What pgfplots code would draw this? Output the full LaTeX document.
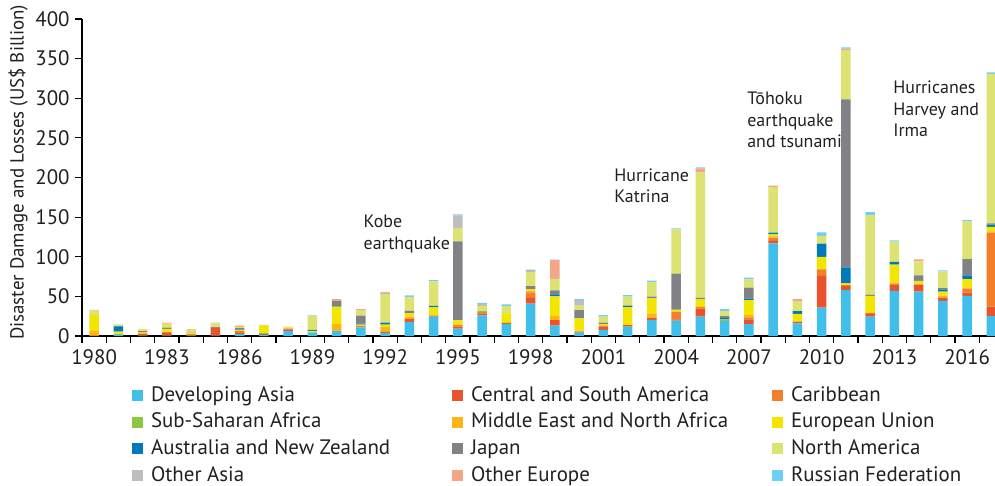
\documentclass[border=0pt]{standalone}
\usepackage{fontspec}
\setmainfont{PT Sans}
\usepackage{pgfplots}
\usepackage{pgfplotstable}
\pgfplotsset{compat=1.18}

\definecolor{cDA}{HTML}{3FBFE9}
\definecolor{cCSA}{HTML}{E9532E}
\definecolor{cCAR}{HTML}{F47F2B}
\definecolor{cSSA}{HTML}{8DC63F}
\definecolor{cMENA}{HTML}{FDB515}
\definecolor{cEU}{HTML}{F2E600}
\definecolor{cANZ}{HTML}{0079B8}
\definecolor{cJPN}{HTML}{808285}
\definecolor{cNA}{HTML}{DDE372}
\definecolor{cOA}{HTML}{BCBEC0}
\definecolor{cOE}{HTML}{F4A688}
\definecolor{cRUS}{HTML}{6DCFF6}
\definecolor{txt}{HTML}{231F20}

% damage and losses by region, US$ billion
\pgfplotstableread{
year DA   CSA  CAR  SSA MENA EU   ANZ  JPN   NA    OA  OE   RUS
1980 0    0    1    0   5    20.5 0    0     5.5   0   1    0
1981 1.5  0    0    1   0.5  2.5  6.5  0.5   1.5   0   0    0.3
1982 0.5  2    0.5  0   1    1    0    1     2.5   0   0.5  0
1983 0.5  3    1.5  0   0.5  3.5  0    1.5   5     0   1.5  0
1984 0    1    0.3  1   0    1    0    0.5   4     0   0.5  0
1985 0.5  10   0    0   0    0    0.8  0     4.5   0   1    0
1986 2.5  1.5  2    0   0.5  1.2  0.3  2     1.5   0   1.5  0
1987 1.5  1    0    1   0    9    0    0     1.3   0   0.3  0
1988 6.3  2    1    0   0    1.3  0    0     1.3   0   0    0
1989 4    0    0    0.5 0    2    1.2  0     18    0   0    0.5
1990 6    0    0    0   9    22   1    6     0     0   2.5  0
1991 11   1    0.5  0   0    2    1.2  10    7     0   1.2  0
1992 4    1.3  0    0   6    3    2.5  0     36    0   2    0.8
1993 17.7 3.8  0    0   3    4.2  0    3     17.7  0   0    2
1994 24.4 1.3  0    0   0    10.5 1.7  0     31    0   0    1.7
1995 9.3  2.5  2    0   0    6    0    99.7  16.8  16  0    1.3
1996 26   2.5  1.7  1.2 0    0    0    0     6.7   2.5 0    1.2
1997 15   1.7  0    0   0    11.8 0    0     9.3   0   0    2
1998 41   7    7    0   1.7  2    0    4.2   18    0   1.2  1.7
1999 13   7    0    0   5    25   2.5  5     14.7  0   23.5 0.8
2000 4.2  1.3  0    0   1.2  15.6 0    10.5  5.5   7   0    1.3
2001 7.6  4.2  1.3  0   0    2    0    1.7   7.6   0   0    2
2002 11.8 2    0    0   0    22.7 1.7  0     11.4  0   0    2
2003 20.2 2.5  0    0   5.9  19   0    2     18.5  0   0    1.7
2004 19.3 1.7  9.7  0   0    2.5  0.8  44.6  56    0   0    1.3
2005 24.4 10   2.5  0   0    9.3  0    2     158.6 0   4.6  1.3
2006 18.9 0    0    2   0    0    1.7  2.5   6.7   0   0    2
2007 15.1 5.9  2.5  0   2.9  18.9 2    13.9  10.1  0   0    2.5
2008 117  2.9  4.2  0   1.7  2.5  2    0     57.6  0   2    0
2009 16   2.1  0    0   0    9.7  3.7  0     12.6  0   2.5  0
2010 35.8 40   8.4  0   0    15.6 16.8 0     9.7   0   0    4.6
2011 58   5    1.3  0   0    2.1  20.2 212   62.2  0   1.7  1.7
2012 24.4 3.4  1.3  0   0    21.5 0    1.7   100.5 0   0    3.4
2013 56.8 8.4  0    0   2.1  22.7 3.4  0     25.7  0   0    1.7
2014 56   8.4  0    0   1.7  3.4  0.8  6.3   17.7  0   2.5  0
2015 44.2 4.2  0    0   2.5  5    2.9  1.7   21    0   0    1.3
2016 50.5 4.2  5    0   1.3  10.9 4.6  20.6  47.5  0   0    1.7
2017 25.2 11.8 93.4 0   1.7  5.5  2.9  1.7   188.4 0   0    2.1
}\losses

\begin{document}
\begin{tikzpicture}[font=\fontsize{10.5}{11}\selectfont, text=txt,
  annot/.style={anchor=north west, align=left, inner sep=0pt,
    font=\fontsize{9}{10.8}\selectfont}]
\begin{axis}[
    scale only axis,
    width=456.5bp, height=158.5bp,
    ybar stacked, bar width=0.39,
    xmin=1979.5, xmax=2017.15,
    ymin=0, ymax=400,
    axis x line=bottom, axis y line=left,
    axis line style={-, line width=0.7bp, black},
    tick align=outside, major tick length=3.5bp,
    tick style={black, line width=0.6bp},
    ytick={0,50,...,400},
    xtick={1979.5,1980.5,...,2016.5},
    xticklabels={1980,,,1983,,,1986,,,1989,,,1992,,,1995,,,1998,,,2001,,,2004,,,2007,,,2010,,,2013,,,2016,},
    xticklabel style={xshift=6.06bp, anchor=north, inner sep=0pt, yshift=-3bp},
    yticklabel style={anchor=east, inner sep=0pt, xshift=-2.5bp},
    /pgf/number format/assume math mode=true,
    ylabel={Disaster Damage and Losses (US\$ Billion)},
    every axis y label/.style={at={(axis description cs:-0.070,0.516)}, rotate=90, anchor=center,
      font=\fontsize{9.5}{11}\selectfont},
    legend columns=3,
    legend image code/.code={\fill[#1] (0bp,0bp) rectangle (5.5bp,5.5bp);},
    legend style={draw=none, fill=none, at={(0.0548,-0.1546)}, anchor=north west,
      inner sep=0pt, outer sep=0pt, row sep=2.85bp, column sep=0pt,
      nodes={inner sep=0pt, text height=8bp, text depth=2.5bp, anchor=base west},
      /tikz/every odd column/.style={column sep=4bp}},
]
\addplot[fill=cDA, draw=none] table[x=year, y=DA] {\losses};
\addlegendentry{\makebox[150.5bp][l]{Developing Asia}}
\addplot[fill=cCSA, draw=none] table[x=year, y=CSA] {\losses};
\addlegendentry{\makebox[150.5bp][l]{Central and South America}}
\addplot[fill=cCAR, draw=none] table[x=year, y=CAR] {\losses};
\addlegendentry{\makebox[150.5bp][l]{Caribbean}}
\addplot[fill=cSSA, draw=none] table[x=year, y=SSA] {\losses};
\addlegendentry{\makebox[150.5bp][l]{Sub-Saharan Africa}}
\addplot[fill=cMENA, draw=none] table[x=year, y=MENA] {\losses};
\addlegendentry{\makebox[150.5bp][l]{Middle East and North Africa}}
\addplot[fill=cEU, draw=none] table[x=year, y=EU] {\losses};
\addlegendentry{\makebox[150.5bp][l]{European Union}}
\addplot[fill=cANZ, draw=none] table[x=year, y=ANZ] {\losses};
\addlegendentry{\makebox[150.5bp][l]{Australia and New Zealand}}
\addplot[fill=cJPN, draw=none] table[x=year, y=JPN] {\losses};
\addlegendentry{\makebox[150.5bp][l]{Japan}}
\addplot[fill=cNA, draw=none] table[x=year, y=NA] {\losses};
\addlegendentry{\makebox[150.5bp][l]{North America}}
\addplot[fill=cOA, draw=none] table[x=year, y=OA] {\losses};
\addlegendentry{\makebox[150.5bp][l]{Other Asia}}
\addplot[fill=cOE, draw=none] table[x=year, y=OE] {\losses};
\addlegendentry{\makebox[150.5bp][l]{Other Europe}}
\addplot[fill=cRUS, draw=none] table[x=year, y=RUS] {\losses};
\addlegendentry{\makebox[150.5bp][l]{Russian Federation}}

\node[annot] at (axis cs:1991.1,153) {Kobe\\earthquake};
\node[annot] at (axis cs:2001.44,212) {Hurricane\\Katrina};
\node[annot] at (axis cs:2006.92,308) {Tōhoku\\earthquake\\and tsunami};
\node[annot] at (axis cs:2012.94,322) {Hurricanes\\Harvey and\\Irma};
\end{axis}
\pgfresetboundingbox
\path (current axis.south west) ++(-41bp,-75bp) rectangle ++(497.5bp,243bp);
\end{tikzpicture}
\end{document}
